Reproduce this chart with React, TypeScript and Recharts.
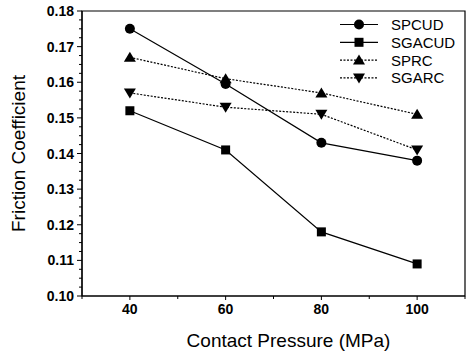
import { LineChart, Line, XAxis, YAxis, ReferenceArea } from 'recharts';

const pressures = [40, 60, 80, 100];
const spcud = [0.175, 0.1595, 0.143, 0.138];
const sgacud = [0.152, 0.141, 0.118, 0.109];
const sprc = [0.167, 0.161, 0.157, 0.151];
const sgarc = [0.157, 0.153, 0.151, 0.141];

const xTicks = [30, 40, 50, 60, 70, 80, 90, 100, 110];
const xLabels = [40, 60, 80, 100];
const yLabels = [0.1, 0.11, 0.12, 0.13, 0.14, 0.15, 0.16, 0.17, 0.18];
const yTicks: number[] = [];
for (let i = 0; i <= 32; i++) yTicks.push(Math.round((0.1 + i * 0.0025) * 10000) / 10000);

const data = pressures.map((p, i) => ({
  p,
  SPCUD: spcud[i],
  SGACUD: sgacud[i],
  SPRC: sprc[i],
  SGARC: sgarc[i],
}));

const FONT = '"Liberation Sans", Arial, sans-serif';

type Shape = 'circle' | 'square' | 'up' | 'down';

function Marker({ cx, cy, shape }: { cx: number, cy: number, shape: Shape }) {
  if (shape === 'circle') return <circle cx={cx} cy={cy} r={5} fill="#000" />;
  if (shape === 'square') return <rect x={cx - 4.5} y={cy - 4.5} width={9} height={9} fill="#000" />;
  if (shape === 'up') return <path d={`M${cx},${cy - 5.5} L${cx + 6},${cy + 4.5} L${cx - 6},${cy + 4.5} Z`} fill="#000" />;
  return <path d={`M${cx},${cy + 5.5} L${cx + 6},${cy - 4.5} L${cx - 6},${cy - 4.5} Z`} fill="#000" />;
}

const series: { key: string, shape: Shape, dash?: string }[] = [
  { key: 'SPCUD', shape: 'circle' },
  { key: 'SGACUD', shape: 'square' },
  { key: 'SPRC', shape: 'up', dash: '2 1.5' },
  { key: 'SGARC', shape: 'down', dash: '2 1.5' },
];

function YTick(props: any) {
  const { x, y, payload } = props;
  const v = payload.value;
  const major = yLabels.some((m) => Math.abs(m - v) < 1e-6);
  return (
    <g>
      <line x1={x} x2={x - (major ? 5 : 3)} y1={y} y2={y} stroke="#000" strokeWidth={1} />
      {major && (
        <text x={x - 8} y={y + 5} textAnchor="end" fontSize={14} fontWeight="bold" fontFamily={FONT} fill="#000">
          {v.toFixed(2)}
        </text>
      )}
    </g>
  );
}

function XTick(props: any) {
  const { x, y, payload } = props;
  const v = payload.value;
  const labeled = xLabels.includes(v);
  return (
    <g>
      <line x1={x} x2={x} y1={y} y2={y + (labeled ? 4 : 3)} stroke="#000" strokeWidth={1} />
      {labeled && (
        <text x={x} y={y + 18} textAnchor="middle" fontSize={14} fontWeight="bold" fontFamily={FONT} fill="#000">
          {v}
        </text>
      )}
    </g>
  );
}

function LegendBox() {
  return (
    <svg width={130} height={80} style={{ position: 'absolute', left: 340, top: 16 }}>
      {series.map((s, i) => {
        const y = 8.5 + i * 17.8;
        return (
          <g key={s.key}>
            <line x1={0} x2={38} y1={y} y2={y} stroke="#000" strokeWidth={1.2} strokeDasharray={s.dash} />
            <Marker cx={19} cy={y} shape={s.shape} />
            <text x={51} y={y + 5.5} fontSize={15} fontFamily={FONT} fill="#000">{s.key}</text>
          </g>
        );
      })}
    </svg>
  );
}

export default function App() {
  return (
    <div style={{ position: 'absolute', left: 0, top: 0, width: 471, height: 352, background: '#fff' }}>
      <LineChart width={471} height={352} data={data} margin={{ top: 11, right: 6, left: 0, bottom: 0 }}>
        <ReferenceArea x1={30} x2={110} y1={0.1} y2={0.18} fill="none" stroke="#000" strokeWidth={1.2} ifOverflow="visible" />
        <XAxis
          dataKey="p"
          type="number"
          domain={[30, 110]}
          ticks={xTicks}
          interval={0}
          height={56}
          tickSize={0}
          tickMargin={0}
          tickLine={false}
          axisLine={{ stroke: '#000', strokeWidth: 1.2 }}
          tick={<XTick />}
          label={{ value: 'Contact Pressure (MPa)', position: 'insideBottom', offset: 5, dx: 15, fontSize: 19, fontFamily: FONT, fill: '#000' }}
        />
        <YAxis
          type="number"
          domain={[0.1, 0.18]}
          ticks={yTicks}
          interval={0}
          width={82}
          tickSize={0}
          tickMargin={0}
          tickLine={false}
          axisLine={{ stroke: '#000', strokeWidth: 1.2 }}
          tick={<YTick />}
          label={{ value: 'Friction Coefficient', angle: -90, position: 'insideLeft', offset: 0, dx: 18, dy: 0, fontSize: 19, fontFamily: FONT, fill: '#000', textAnchor: 'middle' }}
        />
        {series.map((s) => (
          <Line
            key={s.key}
            dataKey={s.key}
            stroke="#000"
            strokeWidth={1.2}
            strokeDasharray={s.dash}
            isAnimationActive={false}
            dot={(p: any) => <Marker key={`${s.key}-${p.index}`} cx={p.cx} cy={p.cy} shape={s.shape} />}
            activeDot={false}
          />
        ))}
      </LineChart>
      <LegendBox />
    </div>
  );
}
